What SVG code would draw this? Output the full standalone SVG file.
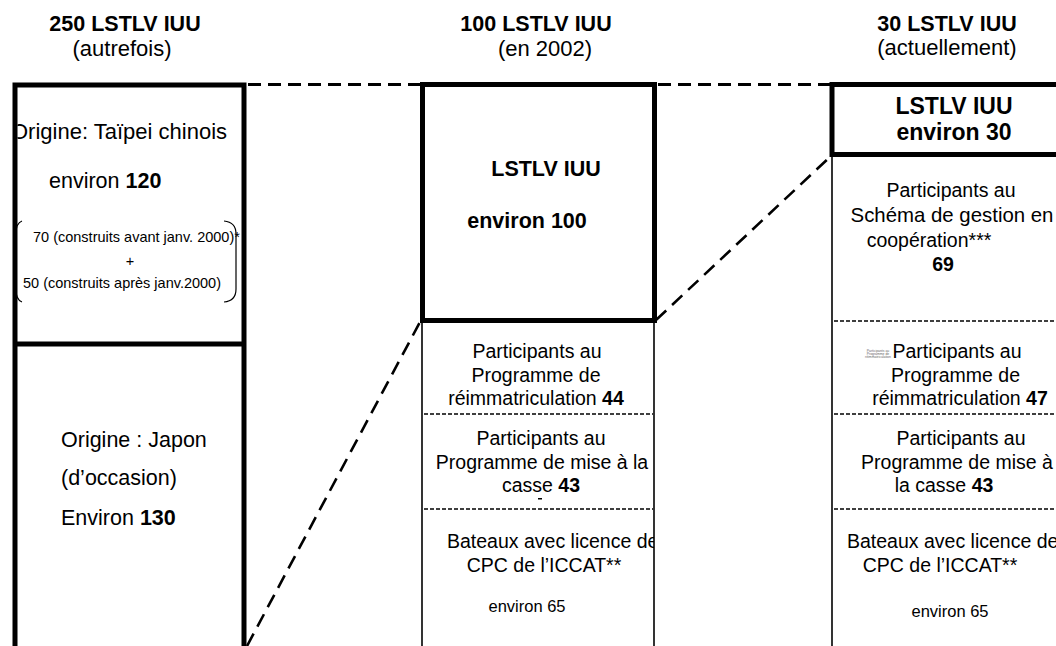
<svg xmlns="http://www.w3.org/2000/svg" width="1056" height="646" viewBox="0 0 1056 646">
<style>
text{font-family:"Liberation Sans",Arial,sans-serif;fill:#000}
.h{font-size:21.5px;font-weight:bold;text-anchor:middle}
.s{font-size:22px;text-anchor:middle}
.t{font-size:21.5px}
.m{font-size:19.5px;text-anchor:middle}
.ms{font-size:19.5px}
.sm{font-size:14.5px}
.e65{font-size:16.5px;text-anchor:middle}
.rb{font-size:23px;font-weight:bold;text-anchor:middle}
.tiny{font-size:3.4px;text-anchor:middle;fill:#666}
.b{font-weight:bold}
.thick{fill:none;stroke:#000;stroke-width:5}
.thin{fill:none;stroke:#000;stroke-width:1.6}
.dash{fill:none;stroke:#000;stroke-width:1.6;stroke-dasharray:4 2}
.conn{fill:none;stroke:#000;stroke-width:3;stroke-dasharray:13 7}
.diag{fill:none;stroke:#000;stroke-width:2.6;stroke-dasharray:14 8}
.par{fill:none;stroke:#000;stroke-width:1.2}
</style>
<defs>
<clipPath id="clipL"><rect x="17.5" y="87" width="224" height="560"/></clipPath>
<clipPath id="clipM"><rect x="423" y="322" width="231" height="325"/></clipPath>
</defs>
<rect width="1056" height="646" fill="#fff"/>

<g id="hdr-left">
<text class="h" x="125" y="31">250 LSTLV IUU</text>
<text class="s" x="122" y="56">(autrefois)</text>
</g>
<g id="hdr-mid">
<text class="h" x="536" y="31">100 LSTLV IUU</text>
<text class="s" x="545" y="56">(en 2002)</text>
</g>
<g id="hdr-right">
<text class="h" x="947" y="30.5">30 LSTLV IUU</text>
<text class="s" x="947" y="55">(actuellement)</text>
</g>

<g id="node-left-taipei">
<g clip-path="url(#clipL)">
<text class="t" x="11" y="139" style="font-size:22px">Origine: Taïpei chinois</text>
</g>
<text class="t" x="49" y="188">environ <tspan class="b">120</tspan></text>
<path class="par" d="M22 221 Q16 223 16 234 L16 289 Q16 300 22 302"/>
<path class="par" d="M224 221 Q236 222 236 234 L236 289 Q236 301 224 302"/>
<text class="sm" x="33" y="242">70 (construits avant janv. 2000)*</text>
<text class="sm" x="130" y="266" style="text-anchor:middle">+</text>
<text class="sm" x="23" y="288">50 (construits après janv.2000)</text>
</g>

<g id="node-left-japon">
<text class="t" x="61" y="447">Origine : Japon</text>
<text class="t" x="61" y="485">(d’occasion)</text>
<text class="t" x="61" y="525">Environ <tspan class="b">130</tspan></text>
</g>

<g id="left-box">
<path class="thick" d="M15 650 L15 85 L244 85 L244 650"/>
<line class="thick" x1="15" y1="344" x2="244" y2="344"/>
</g>

<g id="node-mid-iuu">
<rect class="thick" x="422.5" y="84.5" width="232" height="236"/>
<text class="h" x="546" y="176">LSTLV IUU</text>
<text class="h" x="527" y="228">environ 100</text>
</g>

<g id="mid-column">
<line class="thin" x1="422" y1="320" x2="422" y2="650"/>
<line class="thin" x1="654" y1="320" x2="654" y2="650"/>
<line class="dash" x1="424" y1="414" x2="653" y2="414"/>
<line class="dash" x1="424" y1="509" x2="653" y2="509"/>
</g>

<g id="node-mid-reimm">
<text class="m" x="537" y="358">Participants au</text>
<text class="m" x="536" y="381.5">Programme de</text>
<text class="m" x="536" y="405">réimmatriculation <tspan class="b">44</tspan></text>
</g>
<g id="node-mid-casse">
<text class="m" x="541" y="445">Participants au</text>
<text class="m" x="542" y="468.5">Programme de mise à la</text>
<text class="m" x="541" y="492">casse <tspan class="b">43</tspan></text>
<rect x="538" y="498" width="4" height="1.5" fill="#000"/>
</g>
<g id="node-mid-iccat">
<g clip-path="url(#clipM)">
<text class="ms" x="447" y="548">Bateaux avec licence de</text>
</g>
<text class="m" x="544" y="572">CPC de l’ICCAT**</text>
<text class="e65" x="527" y="612">environ 65</text>
</g>

<g id="node-right-iuu">
<path class="thick" d="M1060 84.5 L832 84.5 L832 154.5 L1060 154.5"/>
<text class="rb" x="954" y="114">LSTLV IUU</text>
<text class="rb" x="954" y="140">environ 30</text>
</g>

<g id="right-column">
<line class="thin" x1="832" y1="154" x2="832" y2="650"/>
<line class="dash" x1="834" y1="321" x2="1056" y2="321"/>
<line class="dash" x1="834" y1="414" x2="1056" y2="414"/>
<line class="dash" x1="834" y1="509" x2="1056" y2="509"/>
</g>

<g id="node-right-schema">
<text class="m" x="951" y="197">Participants au</text>
<text class="m" x="952" y="222" style="font-size:20.4px">Schéma de gestion en</text>
<text class="m" x="929" y="247">coopération***</text>
<text class="m b" x="943" y="271">69</text>
</g>
<g id="node-right-reimm">
<text class="tiny" x="878" y="351.5">Participants au</text>
<text class="tiny" x="878" y="354.6">Programme de</text>
<text class="tiny" x="878" y="357.7">réimmatriculation</text>
<text class="m" x="957" y="358">Participants au</text>
<text class="m" x="955.5" y="381.5">Programme de</text>
<text class="m" x="960" y="405">réimmatriculation <tspan class="b">47</tspan></text>
</g>
<g id="node-right-casse">
<text class="m" x="961" y="445">Participants au</text>
<text class="m" x="957" y="468.5">Programme de mise à</text>
<text class="m" x="944" y="492">la casse <tspan class="b">43</tspan></text>
</g>
<g id="node-right-iccat">
<text class="ms" x="847" y="548">Bateaux avec licence de</text>
<text class="m" x="940" y="572">CPC de l’ICCAT**</text>
<text class="e65" x="950" y="617">environ 65</text>
</g>

<g id="connectors">
<line class="conn" x1="248" y1="84.5" x2="420" y2="84.5"/>
<line class="conn" x1="658" y1="84.5" x2="830" y2="84.5"/>
<line class="diag" x1="247" y1="646" x2="420" y2="322"/>
<line class="diag" x1="656" y1="320" x2="831" y2="156"/>
</g>
</svg>
